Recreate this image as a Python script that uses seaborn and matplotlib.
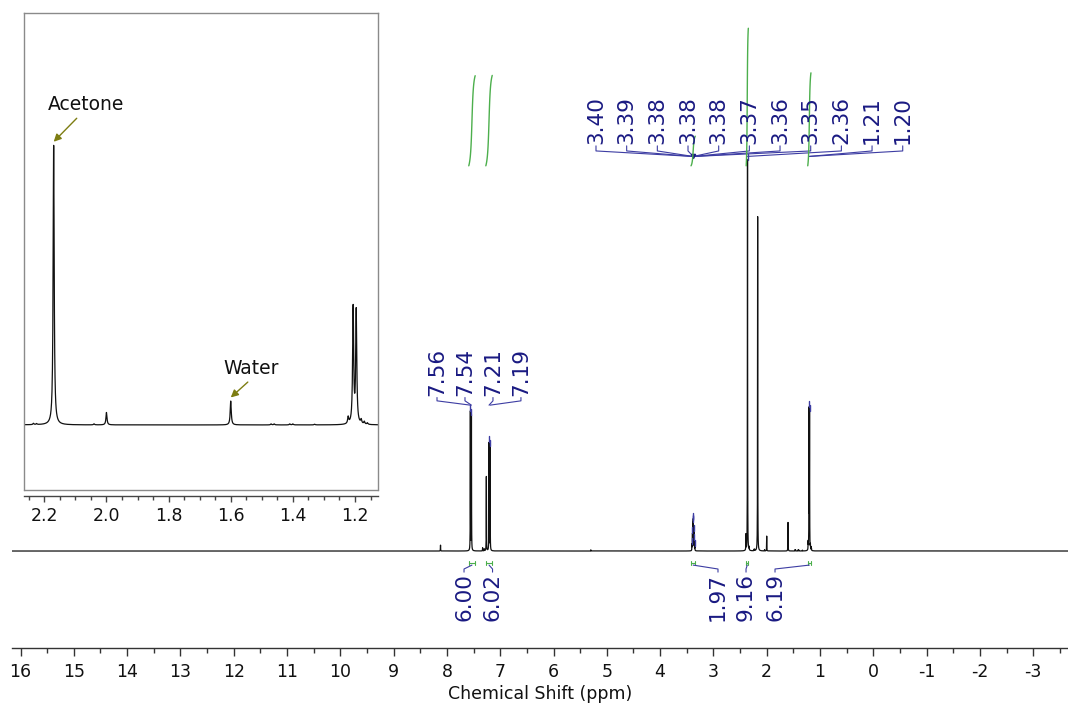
import numpy as np
import pandas as pd
import matplotlib
matplotlib.use("Agg")
import matplotlib.pyplot as plt
from matplotlib.ticker import MultipleLocator, FormatStrFormatter
import seaborn as sns

# ---------------------------------------------------------------- data
# Resonances of the 1H spectrum: chemical shift (ppm) and peak height (a.u.)
peak_ppm = [8.12, 7.56, 7.54, 7.33, 7.30, 7.26, 7.21, 7.19, 5.30,
            3.402, 3.393, 3.384, 3.379, 3.376, 3.366, 3.357, 3.348,
            2.39, 2.36, 2.33, 2.235, 2.225, 2.17, 2.04, 2.00, 1.60,
            1.47, 1.46, 1.41, 1.40, 1.33, 1.222, 1.206, 1.196, 1.18, 1.17, 1.16]
peak_height = [1.5, 35.5, 34.5, 0.8, 0.5, 19.0, 27.5, 26.5, 0.3,
               1.5, 4.0, 6.0, 5.5, 5.5, 4.5, 2.5, 1.0,
               4.0, 100.0, 0.8, 0.4, 0.3, 85.5, 0.3, 3.8, 7.3,
               0.3, 0.3, 0.3, 0.3, 0.2, 2.0, 35.5, 34.5, 1.2, 0.8, 0.5]
line_hwhm = 0.002

# Picked peaks (ppm)
picked_aromatic = [7.56, 7.54, 7.21, 7.19]
picked_aliphatic = [3.402, 3.393, 3.384, 3.379, 3.376, 3.366, 3.357, 3.348,
                    2.36, 1.206, 1.196]

# Integration regions (ppm) and integral values (H)
int_start = [7.59, 7.27, 3.42, 2.385, 1.23]
int_end = [7.47, 7.15, 3.34, 2.345, 1.17]
int_value = [6.00, 6.02, 1.97, 9.16, 6.19]

# Inset annotations
inset_notes = ["Acetone", "Water"]
inset_note_ppm = [2.17, 1.60]


# ---------------------------------------------------------------- spectrum
def lineshape(x, centers, heights, w):
    x = np.asarray(x, dtype=float)[..., None]
    c = np.asarray(centers)[None, :]
    h = np.asarray(heights)[None, :]
    return (h * w ** 2 / ((x - c) ** 2 + w ** 2)).sum(axis=-1)


ppm = np.arange(-3.8, 16.3, 0.0002)
intensity = lineshape(ppm, peak_ppm, peak_height, line_hwhm)
spec = pd.DataFrame({"ppm": ppm, "intensity": intensity})

# ---------------------------------------------------------------- style
sns.set_theme(style="white")
plt.rcParams["font.family"] = ["DejaVu Sans"]
plt.rcParams["axes.unicode_minus"] = False

navy = "#1a1a82"
navy_line = "#3d3da3"
green = "#4caf4c"
olive = "#7d7d12"
ink = "#111111"

fig = plt.figure(figsize=(10.68, 7.05), dpi=100)
fig.patch.set_facecolor("white")

# ---------------------------------------------------------------- main axes
ax = fig.add_axes([12 / 1068, 57 / 705, 1056 / 1068, 648 / 705])
sns.lineplot(data=spec, x="ppm", y="intensity", ax=ax, color=ink, lw=0.9,
             estimator=None, sort=False)
ax.set_xlim(16.16, -3.653)
ax.set_ylim(-24.8, 140.9)
for side in ("top", "left", "right"):
    ax.spines[side].set_visible(False)
ax.spines["bottom"].set_color("#333333")
ax.spines["bottom"].set_linewidth(1.0)
ax.set_yticks([])
ax.set_ylabel("")
ax.xaxis.set_major_locator(MultipleLocator(1))
ax.xaxis.set_minor_locator(MultipleLocator(0.5))
ax.xaxis.set_major_formatter(FormatStrFormatter("%d"))
ax.tick_params(axis="x", which="major", direction="out", length=5.5, width=1,
               pad=5, labelsize=12.5, color="#333333", labelcolor="#111111",
               bottom=True)
ax.tick_params(axis="x", which="minor", direction="out", length=3.5, width=1,
               color="#333333", bottom=True)
ax.set_xlabel("Chemical Shift (ppm)", fontsize=12.5, labelpad=3, color="#111111")
ax.patch.set_alpha(0)


def spec_at(x):
    return float(lineshape([x], peak_ppm, peak_height, line_hwhm)[0])


def pick_labels(values, x0, dx, text_y, top_y, knee_y, conv_y):
    for i, v in enumerate(values):
        lx = x0 + i * dx
        ax.text(lx, text_y, f"{v:.2f}", rotation=90, ha="center", va="bottom",
                fontsize=15.5, color=navy, clip_on=False)
        ax.plot([lx, lx, v], [top_y, knee_y, conv_y], color=navy_line, lw=0.8,
                clip_on=False)
        top = spec_at(v)
        ax.plot([v, v], [top, top + 1.5], color=navy_line, lw=1.0)


pick_labels(picked_aromatic, 8.186, -0.525, 39.6, 39.25, 38.4, 37.3)
pick_labels(picked_aliphatic, 5.203, -0.5755, 104.1, 103.6, 102.3, 100.9)
ax.plot([3.38], [100.9], marker="v", ms=3, color=navy, clip_on=False)

# integral curves, region brackets and values
int_base = 98.5
int_scale = 3.84
int_label_x = [7.679, 7.144, 2.914, 2.388, 1.844]
for s, e, val, lx in zip(int_start, int_end, int_value, int_label_x):
    t = np.linspace(0, 1, 60)
    shape = np.arctan((t - 0.5) / 0.18)
    shape = (shape - shape[0]) / (shape[-1] - shape[0])
    ax.plot(s + (e - s) * t, int_base + val * int_scale * shape,
            color=green, lw=1.0, clip_on=False)
    ax.plot([s, e], [-3.07, -3.07], color=green, lw=0.8)
    ax.plot([s, s], [-2.6, -3.5], color=green, lw=0.8)
    ax.plot([e, e], [-2.6, -3.5], color=green, lw=0.8)
    c = 0.5 * (s + e)
    ax.plot([c, lx, lx], [-3.6, -4.6, -5.4], color=navy_line, lw=0.8)
    ax.text(lx, -5.65, f"{val:.2f}", rotation=90, ha="center", va="top",
            fontsize=15.5, color=navy, clip_on=False)

# ---------------------------------------------------------------- inset
axi = fig.add_axes([24 / 1068, 215 / 705, 354 / 1068, 477 / 705])
sub = spec[(spec["ppm"] > 1.10) & (spec["ppm"] < 2.28)]
sns.lineplot(data=sub, x="ppm", y="intensity", ax=axi, color=ink, lw=0.9,
             estimator=None, sort=False)
axi.set_xlim(2.2655, 1.126)
axi.set_ylim(-19.9, 126)
axi.set_facecolor("white")
for side in ("top", "left", "right"):
    axi.spines[side].set_color("#8a8a8a")
    axi.spines[side].set_linewidth(1.0)
axi.spines["bottom"].set_position(("outward", 4))
axi.spines["bottom"].set_color("#444444")
axi.spines["bottom"].set_linewidth(1.0)
axi.plot([0, 1], [0, 0], transform=axi.transAxes, color="#8a8a8a", lw=1.0,
         clip_on=False)
axi.set_yticks([])
axi.set_ylabel("")
axi.set_xlabel("")
axi.xaxis.set_major_locator(MultipleLocator(0.2))
axi.xaxis.set_minor_locator(MultipleLocator(0.05))
axi.xaxis.set_major_formatter(FormatStrFormatter("%.1f"))
axi.tick_params(axis="x", which="major", direction="out", length=4, width=1,
                pad=4, labelsize=12.5, color="#444444", labelcolor="#111111",
                bottom=True)
axi.tick_params(axis="x", which="minor", direction="out", length=3, width=1,
                color="#444444", bottom=True)

# label offsets (ppm, a.u.) from each peak top and where the arrow leaves the text
note_offsets = [(0.018, 12.5), (0.023, 10.0)]
note_relpos = [(0.43, 0.0), (0.52, 0.0)]
for name, x, (dx, dy), rp in zip(inset_notes, inset_note_ppm, note_offsets,
                                 note_relpos):
    top = spec_at(x)
    axi.annotate(name, xy=(x, top + 1.1), xytext=(x + dx, top + dy),
                 fontsize=13.5, color="#111111", ha="left", va="center",
                 arrowprops=dict(arrowstyle="-|>", color=olive, lw=1.0,
                                 mutation_scale=11, shrinkA=1, shrinkB=0,
                                 relpos=rp))

fig.savefig("out.png", dpi=100, facecolor="white")
